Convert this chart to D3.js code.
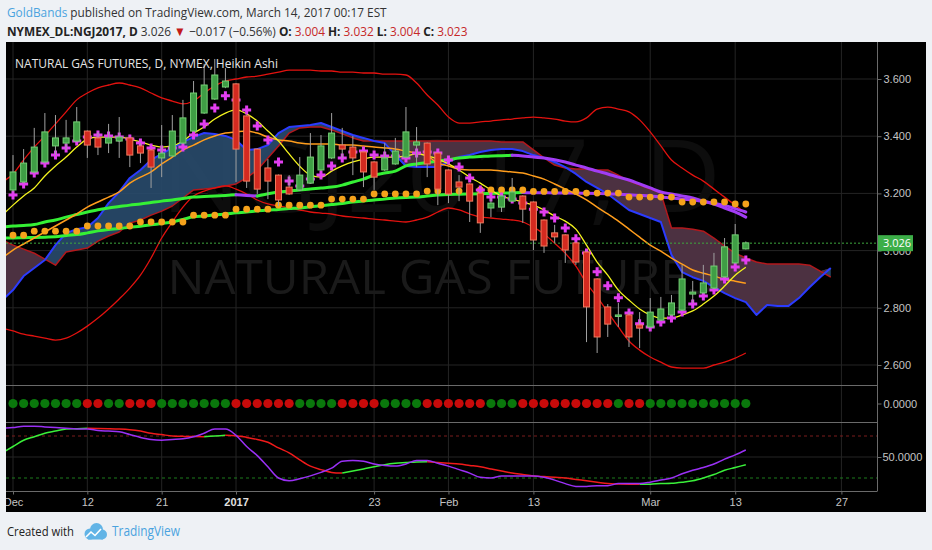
<!DOCTYPE html>
<html>
<head>
<meta charset="utf-8">
<script src="https://cdn.jsdelivr.net/npm/d3@7"></script>
<style>
  html, body { margin: 0; padding: 0; background: #eef1f5; }
  svg { display: block; }
  text { font-family: 'Open Sans', 'Noto Sans', sans-serif; }
  .axis text { font-family: 'Liberation Sans', Arial, sans-serif; font-size: 11px; fill: #c4c4c4; }
</style>
</head>
<body>
<svg id="chart"></svg>
<script>
// bars are trading days, 0 = Dec 1 2016, 69 = Mar 14 2017
const tickBars = [0, 7, 14, 21, 34, 41, 49, 60, 68, 78];
const tickLabels = ['Dec', '12', '21', '2017', '23', 'Feb', '13', 'Mar', '13', '27'];
const priceTicks = [2.6, 2.8, 3.0, 3.2, 3.4, 3.6];
const lastPrice = 3.026;

// Heikin Ashi candles
const haOpen = [3.212, 3.240, 3.275, 3.310, 3.366, 3.376, 3.383, 3.418, 3.394, 3.376,
  3.383, 3.394, 3.366, 3.352, 3.324, 3.331, 3.376, 3.418, 3.481, 3.530,
  3.572, 3.583, 3.471, 3.355, 3.289, 3.264, 3.222, 3.212, 3.236, 3.282,
  3.324, 3.369, 3.362, 3.345, 3.310, 3.282, 3.303, 3.327, 3.369, 3.376,
  3.341, 3.282, 3.240, 3.233, 3.201, 3.149, 3.152, 3.173, 3.191, 3.170,
  3.107, 3.062, 3.055, 3.027, 2.995, 2.901, 2.803, 2.771, 2.775, 2.740,
  2.733, 2.757, 2.775, 2.792, 2.848, 2.852, 2.869, 2.908, 2.957, 3.006];
const haHigh = [3.334, 3.355, 3.429, 3.481, 3.474, 3.457, 3.502, 3.420, 3.415, 3.443,
  3.467, 3.396, 3.376, 3.354, 3.439, 3.474, 3.527, 3.593, 3.653, 3.670,
  3.638, 3.585, 3.473, 3.357, 3.320, 3.266, 3.264, 3.327, 3.411, 3.404,
  3.481, 3.429, 3.401, 3.347, 3.312, 3.376, 3.394, 3.502, 3.432, 3.378,
  3.343, 3.284, 3.264, 3.235, 3.203, 3.184, 3.195, 3.254, 3.193, 3.172,
  3.109, 3.090, 3.057, 3.029, 2.997, 2.903, 2.813, 2.817, 2.785, 2.785,
  2.834, 2.838, 2.845, 2.950, 2.894, 2.950, 2.992, 3.044, 3.093, 3.032];
const haLow = [3.205, 3.235, 3.270, 3.305, 3.334, 3.352, 3.380, 3.324, 3.334, 3.341,
  3.324, 3.292, 3.306, 3.219, 3.257, 3.328, 3.372, 3.415, 3.478, 3.527,
  3.568, 3.240, 3.219, 3.198, 3.180, 3.156, 3.195, 3.208, 3.233, 3.278,
  3.320, 3.324, 3.264, 3.222, 3.212, 3.278, 3.300, 3.323, 3.292, 3.257,
  3.159, 3.166, 3.173, 3.100, 3.062, 3.117, 3.135, 3.170, 3.097, 3.002,
  2.992, 3.027, 2.957, 2.950, 2.680, 2.642, 2.698, 2.733, 2.663, 2.659,
  2.730, 2.754, 2.772, 2.789, 2.817, 2.849, 2.866, 2.905, 2.954, 3.004];
const haClose = [3.275, 3.306, 3.362, 3.415, 3.394, 3.394, 3.450, 3.369, 3.362, 3.394,
  3.397, 3.334, 3.341, 3.292, 3.341, 3.418, 3.464, 3.551, 3.579, 3.614,
  3.593, 3.355, 3.243, 3.215, 3.243, 3.177, 3.198, 3.264, 3.327, 3.366,
  3.411, 3.355, 3.324, 3.275, 3.257, 3.324, 3.348, 3.415, 3.380, 3.303,
  3.215, 3.198, 3.222, 3.173, 3.097, 3.166, 3.191, 3.205, 3.145, 3.037,
  3.016, 3.048, 3.002, 2.960, 2.803, 2.698, 2.743, 2.775, 2.698, 2.729,
  2.785, 2.796, 2.817, 2.901, 2.855, 2.887, 2.946, 3.013, 3.055, 3.027];

// magenta cross study, one per bar
const crossLevel = [3.194, 3.233, 3.271, 3.306, 3.334, 3.359, 3.383, 3.397, 3.404, 3.401,
  3.397, 3.390, 3.376, 3.359, 3.352, 3.359, 3.362, 3.404, 3.443, 3.499,
  3.541, 3.527, 3.492, 3.436, 3.387, 3.310, 3.243, 3.226, 3.250, 3.264,
  3.296, 3.324, 3.345, 3.348, 3.334, 3.331, 3.331, 3.324, 3.341, 3.345,
  3.341, 3.317, 3.292, 3.254, 3.212, 3.187, 3.187, 3.180, 3.166, 3.145,
  3.135, 3.114, 3.079, 3.041, 2.992, 2.926, 2.877, 2.835, 2.782, 2.744,
  2.733, 2.750, 2.764, 2.785, 2.813, 2.841, 2.862, 2.901, 2.943, 2.967];

// weekly level shown as orange dots (first bar of each week, value)
const dotWeekStart = [0, 2, 7, 12, 17, 21, 25, 30, 34, 39, 44, 49, 54, 58, 63, 68];
const dotWeekValue = [3.054, 3.068, 3.086, 3.100, 3.124, 3.145, 3.159, 3.180, 3.198, 3.208,
  3.212, 3.207, 3.201, 3.187, 3.170, 3.163];

// line studies, first value is bar -1
const lineStart = -1;
const maShort = [3.124, 3.159, 3.191, 3.219, 3.261, 3.296, 3.327, 3.362, 3.390, 3.397,
  3.397, 3.397, 3.390, 3.380, 3.369, 3.362, 3.366, 3.383, 3.411, 3.432,
  3.460, 3.481, 3.492, 3.478, 3.453, 3.418, 3.383, 3.338, 3.295, 3.264,
  3.257, 3.278, 3.296, 3.310, 3.320, 3.327, 3.327, 3.327, 3.331, 3.338,
  3.331, 3.320, 3.303, 3.282, 3.257, 3.236, 3.212, 3.191, 3.180, 3.170,
  3.159, 3.142, 3.121, 3.103, 3.075, 3.019, 2.960, 2.914, 2.862, 2.827,
  2.796, 2.775, 2.764, 2.764, 2.775, 2.789, 2.813, 2.841, 2.876, 2.914, 2.942];
const maMid = [2.974, 3.002, 3.023, 3.044, 3.065, 3.086, 3.107, 3.128, 3.152, 3.170,
  3.187, 3.205, 3.236, 3.257, 3.275, 3.303, 3.327, 3.352, 3.369, 3.387,
  3.401, 3.411, 3.415, 3.418, 3.411, 3.397, 3.387, 3.383, 3.376, 3.373,
  3.373, 3.373, 3.369, 3.369, 3.366, 3.362, 3.359, 3.355, 3.348, 3.341,
  3.331, 3.306, 3.296, 3.285, 3.282, 3.282, 3.282, 3.278, 3.275, 3.271,
  3.261, 3.250, 3.233, 3.215, 3.198, 3.177, 3.152, 3.128, 3.103, 3.075,
  3.047, 3.019, 2.998, 2.974, 2.953, 2.932, 2.921, 2.911, 2.900, 2.893, 2.886];
const maFast = [3.082, 3.086, 3.088, 3.091, 3.100, 3.107, 3.117, 3.126, 3.135, 3.143,
  3.149, 3.154, 3.159, 3.163, 3.168, 3.173, 3.177, 3.182, 3.187, 3.189,
  3.191, 3.193, 3.195, 3.193, 3.191, 3.199, 3.205, 3.208, 3.212, 3.215,
  3.219, 3.222, 3.229, 3.240, 3.250, 3.264, 3.271, 3.278, 3.296, 3.303,
  3.308, 3.313, 3.318, 3.324, 3.327, 3.329, 3.331, 3.332, 3.333, 3.331,
  3.327, 3.324, 3.318, 3.310, 3.299, 3.289, 3.278, 3.268, 3.257, 3.247,
  3.233, 3.219, 3.205, 3.198, 3.191, 3.184, 3.173, 3.163, 3.149, 3.135, 3.117];
const maSlow = [3.044, 3.0441, 3.045, 3.046, 3.047, 3.048, 3.053, 3.056, 3.062, 3.069,
  3.074, 3.077, 3.082, 3.085, 3.090, 3.095, 3.100, 3.109, 3.118, 3.121,
  3.125, 3.128, 3.132, 3.135, 3.139, 3.142, 3.144, 3.147, 3.149, 3.153,
  3.157, 3.161, 3.165, 3.170, 3.173, 3.177, 3.180, 3.184, 3.186, 3.187,
  3.191, 3.194, 3.196, 3.197, 3.198, 3.199, 3.200, 3.201, 3.202, 3.2028,
  3.2025, 3.2021, 3.2017, 3.2014, 3.2011, 3.2007, 3.200, 3.199, 3.197, 3.195,
  3.193, 3.191, 3.187, 3.184, 3.180, 3.177, 3.172, 3.166, 3.158, 3.147, 3.135];
const bbUpper = [3.240, 3.268, 3.317, 3.362, 3.401, 3.443, 3.485, 3.527, 3.551, 3.569,
  3.579, 3.586, 3.579, 3.569, 3.551, 3.534, 3.523, 3.513, 3.523, 3.551,
  3.576, 3.593, 3.600, 3.607, 3.610, 3.617, 3.624, 3.631, 3.631, 3.631,
  3.628, 3.628, 3.624, 3.624, 3.621, 3.621, 3.617, 3.617, 3.614, 3.586,
  3.544, 3.509, 3.467, 3.446, 3.446, 3.450, 3.453, 3.457, 3.460, 3.464,
  3.467, 3.464, 3.460, 3.453, 3.450, 3.464, 3.495, 3.502, 3.495, 3.485,
  3.457, 3.415, 3.366, 3.317, 3.289, 3.264, 3.243, 3.215, 3.187, 3.159, 3.131];
const bbLower = [2.729, 2.719, 2.708, 2.701, 2.694, 2.687, 2.694, 2.712, 2.736, 2.764,
  2.796, 2.831, 2.869, 2.914, 2.974, 3.044, 3.100, 3.152, 3.191, 3.208,
  3.219, 3.226, 3.215, 3.198, 3.177, 3.163, 3.156, 3.149, 3.142, 3.135,
  3.131, 3.128, 3.121, 3.117, 3.114, 3.110, 3.107, 3.103, 3.100, 3.107,
  3.117, 3.135, 3.149, 3.142, 3.128, 3.117, 3.114, 3.110, 3.107, 3.100,
  3.082, 3.058, 3.026, 2.991, 2.946, 2.886, 2.838, 2.785, 2.733, 2.684,
  2.652, 2.628, 2.610, 2.593, 2.589, 2.589, 2.589, 2.600, 2.610, 2.624, 2.642];

// ichimoku cloud, first value is bar -1, runs 8 bars past the last candle
const cloudStart = -1;
const senkouA = [2.827, 2.862, 2.911, 2.939, 2.967, 3.019, 3.061, 3.075, 3.082, 3.114,
  3.166, 3.205, 3.254, 3.282, 3.317, 3.338, 3.359, 3.380, 3.397, 3.411,
  3.408, 3.401, 3.387, 3.352, 3.355, 3.369, 3.411, 3.432, 3.436, 3.439,
  3.446, 3.432, 3.418, 3.404, 3.394, 3.383, 3.376, 3.334, 3.296, 3.292,
  3.292, 3.292, 3.310, 3.327, 3.334, 3.345, 3.352, 3.355, 3.355, 3.348,
  3.334, 3.324, 3.310, 3.292, 3.268, 3.240, 3.219, 3.198, 3.170, 3.142,
  3.128, 3.114, 3.100, 2.985, 2.925, 2.907, 2.894, 2.872, 2.851, 2.834,
  2.820, 2.775, 2.810, 2.806, 2.806, 2.834, 2.872, 2.907, 2.939];
const senkouB = [3.037, 3.019, 3.005, 2.991, 2.970, 2.949, 2.995, 3.002, 3.009, 3.033,
  3.051, 3.065, 3.096, 3.107, 3.124, 3.138, 3.156, 3.184, 3.212, 3.215,
  3.219, 3.226, 3.233, 3.254, 3.282, 3.324, 3.366, 3.411, 3.429, 3.432,
  3.432, 3.422, 3.408, 3.394, 3.383, 3.383, 3.383, 3.383, 3.383, 3.383,
  3.383, 3.383, 3.383, 3.383, 3.383, 3.383, 3.383, 3.380, 3.380, 3.380,
  3.352, 3.324, 3.299, 3.289, 3.285, 3.285, 3.282, 3.282, 3.264, 3.243,
  3.229, 3.215, 3.201, 3.079, 3.079, 3.075, 3.068, 3.044, 3.016, 2.991,
  2.974, 2.960, 2.953, 2.953, 2.953, 2.953, 2.949, 2.928, 2.907];

// squeeze dots, g = green, r = red
const squeeze = 'gggggggrrggrrrgggggggrrrrrrggggrrrrggggrrrrrrgggrrrrrrrrrgrrgggggggggg'.split('');

// stochastic pane, first value is bar -1
const oscStart = -1;
const stochK = [91, 92, 94, 94, 93, 92, 91, 90, 90, 88, 87,
  86, 82, 78, 75, 74, 75, 76, 79, 84, 90,
  90, 81, 65, 52, 36, 20, 16, 19, 23, 28,
  34, 44, 45, 44, 40, 38, 37, 40, 45, 45,
  41, 37, 32, 27, 21, 20, 23, 23, 23, 23,
  21, 17, 12, 8, 8, 9, 9, 12, 12, 12,
  14, 17, 20, 26, 31, 35, 40, 47, 53, 60];
const stochD = [56, 65, 74, 79, 84, 87, 90, 90.5, 91, 90.8, 90.5,
  90, 89, 87, 84, 82, 80, 79.5, 79.2, 79, 80,
  81, 80.5, 78, 75, 71, 63, 56, 46, 37, 32,
  28, 27, 30, 33, 36, 39, 41, 42, 43, 43.2,
  42, 41, 40, 38, 36, 33, 30, 27, 25, 23,
  22, 21, 20, 18, 16, 14, 12, 11.5, 11.2, 11,
  11.2, 12, 12.5, 14, 16, 20, 25, 31, 35, 39];

const svg = d3.select('#chart').attr('width', 932).attr('height', 550);

const x = d3.scaleLinear().domain([0, 78]).range([13, 841.4]);
const y = d3.scaleLinear().domain([2.6, 3.6]).range([365, 79]);
const yOsc = d3.scaleLinear().domain([0, 100]).range([492, 422]);
const yDot = d3.scaleLinear().domain([-1, 1]).range([422, 385]);

function points(values, start) {
  return values.map(function(v, k) { return {i: start + k, v: v}; });
}

// split a series into runs that go up or down
function directionRuns(pts) {
  const runs = [];
  let cur = null;
  for (let k = 1; k < pts.length; k++) {
    const up = pts[k].v >= pts[k - 1].v;
    if (!cur || cur.up !== up) {
      cur = {up: up, pts: [pts[k - 1]]};
      runs.push(cur);
    }
    cur.pts.push(pts[k]);
  }
  return runs;
}

svg.append('rect').attr('width', 932).attr('height', 550).attr('fill', '#eef1f5');
svg.append('rect').attr('x', 6).attr('y', 42).attr('width', 920).attr('height', 470).attr('fill', '#000');

const defs = svg.append('defs');
defs.append('clipPath').attr('id', 'clip-main').append('rect')
  .attr('x', 6).attr('y', 42).attr('width', 871).attr('height', 343);
defs.append('clipPath').attr('id', 'clip-lower').append('rect')
  .attr('x', 6).attr('y', 385).attr('width', 871).attr('height', 106);
defs.append('clipPath').attr('id', 'clip-xaxis').append('rect')
  .attr('x', 6).attr('y', 491).attr('width', 871).attr('height', 21);

// grid
const grid = svg.append('g').attr('stroke', '#242424').attr('stroke-width', 1);
grid.selectAll('.vgrid').data(tickBars).enter().append('line')
  .attr('x1', function(d) { return x(d); }).attr('x2', function(d) { return x(d); })
  .attr('y1', 42).attr('y2', 491);
grid.selectAll('.hgrid').data(priceTicks).enter().append('line')
  .attr('x1', 6).attr('x2', 877)
  .attr('y1', function(d) { return y(d); }).attr('y2', function(d) { return y(d); });
grid.append('line').attr('x1', 6).attr('x2', 877).attr('y1', yOsc(50)).attr('y2', yOsc(50));

const main = svg.append('g').attr('clip-path', 'url(#clip-main)');

// watermark
main.append('text').attr('x', 441).attr('y', 212).attr('text-anchor', 'middle')
  .attr('font-size', 100).attr('fill', '#0d0d0d')
  .attr('textLength', 560).attr('lengthAdjust', 'spacingAndGlyphs')
  .text('NGJ2017, D');
main.append('text').attr('x', 441).attr('y', 294).attr('text-anchor', 'middle')
  .attr('font-size', 48).attr('fill', '#1a1a1a')
  .attr('textLength', 547).attr('lengthAdjust', 'spacingAndGlyphs')
  .text('NATURAL GAS FUTURES');

// cloud
const cloudPts = senkouA.map(function(a, k) { return {i: cloudStart + k, a: a, b: senkouB[k]}; });
main.append('path').datum(cloudPts)
  .attr('d', d3.area().x(function(d) { return x(d.i); })
    .y0(function(d) { return y(d.b); })
    .y1(function(d) { return y(Math.max(d.a, d.b)); }))
  .attr('fill', '#294b6d').attr('opacity', 0.9);
main.append('path').datum(cloudPts)
  .attr('d', d3.area().x(function(d) { return x(d.i); })
    .y0(function(d) { return y(d.a); })
    .y1(function(d) { return y(Math.max(d.a, d.b)); }))
  .attr('fill', '#4c3141');

const priceLine = d3.line().x(function(d) { return x(d.i); }).y(function(d) { return y(d.v); });
const smoothLine = d3.line().curve(d3.curveMonotoneX)
  .x(function(d) { return x(d.i); }).y(function(d) { return y(d.v); });

function drawLine(values, start, color, width, gen) {
  main.append('path').datum(points(values, start))
    .attr('d', gen || priceLine)
    .attr('fill', 'none').attr('stroke', color).attr('stroke-width', width)
    .attr('stroke-linejoin', 'round');
}

function drawTrendLine(values, start, upColor, downColor, width) {
  directionRuns(points(values, start)).forEach(function(run) {
    main.append('path').datum(run.pts)
      .attr('d', smoothLine)
      .attr('fill', 'none').attr('stroke', run.up ? upColor : downColor)
      .attr('stroke-width', width).attr('stroke-linecap', 'round');
  });
}

drawLine(senkouB, cloudStart, '#b3181c', 1.5);
drawLine(senkouA, cloudStart, '#2b3bff', 2);
drawLine(bbUpper, lineStart, '#e3120f', 1.3, smoothLine);
drawLine(bbLower, lineStart, '#e3120f', 1.3, smoothLine);
drawTrendLine(maSlow, lineStart, '#35f035', '#a23cf5', 3);
drawTrendLine(maFast, lineStart, '#35f035', '#a23cf5', 3);
drawLine(maMid, lineStart, '#ff9d1c', 1.5, smoothLine);
drawLine(maShort, lineStart, '#f4f41e', 1.3, smoothLine);

// weekly dots
const dotData = [];
dotWeekStart.forEach(function(s, w) {
  const end = w + 1 < dotWeekStart.length ? dotWeekStart[w + 1] : haOpen.length;
  for (let i = s; i < end; i++) dotData.push({i: i, v: dotWeekValue[w]});
});
main.selectAll('.wdot').data(dotData).enter().append('circle')
  .attr('cx', function(d) { return x(d.i); })
  .attr('cy', function(d) { return y(d.v); })
  .attr('r', 3.4).attr('fill', '#f5a21b');

// last price line
main.append('line').attr('x1', 6).attr('x2', 877)
  .attr('y1', y(lastPrice)).attr('y2', y(lastPrice))
  .attr('stroke', '#3ea83e').attr('stroke-dasharray', '2,2');

main.selectAll('.cross').data(crossLevel).enter().append('path')
  .attr('d', d3.symbol().type(d3.symbolCross).size(45))
  .attr('transform', function(d, i) { return 'translate(' + x(i) + ',' + y(d) + ')'; })
  .attr('fill', '#e23ef0');

// candles
const candles = haOpen.map(function(o, i) {
  return {i: i, o: o, h: haHigh[i], l: haLow[i], c: haClose[i]};
});
main.selectAll('.wick').data(candles).enter().append('line')
  .attr('x1', function(d) { return x(d.i); }).attr('x2', function(d) { return x(d.i); })
  .attr('y1', function(d) { return y(d.h); }).attr('y2', function(d) { return y(d.l); })
  .attr('stroke', '#a0a0a0').attr('stroke-width', 1);
main.selectAll('.body').data(candles).enter().append('rect')
  .attr('x', function(d) { return x(d.i) - 3; })
  .attr('width', 6)
  .attr('y', function(d) { return y(Math.max(d.o, d.c)); })
  .attr('height', function(d) { return Math.max(1.5, Math.abs(y(d.o) - y(d.c))); })
  .attr('fill', function(d) { return d.c >= d.o ? '#3f9e45' : '#d42a20'; })
  .attr('stroke', function(d) { return d.c >= d.o ? '#74cf74' : '#f27b5e'; })
  .attr('stroke-width', 1);

// lower panes
const lower = svg.append('g').attr('clip-path', 'url(#clip-lower)');
lower.selectAll('.sq').data(squeeze).enter().append('circle')
  .attr('cx', function(d, i) { return x(i); })
  .attr('cy', yDot(0))
  .attr('r', 4.6)
  .attr('fill', function(d) { return d === 'g' ? '#0a780c' : '#c80a0a'; });

lower.append('line').attr('x1', 6).attr('x2', 877).attr('y1', yOsc(80)).attr('y2', yOsc(80))
  .attr('stroke', '#7a1c1c').attr('stroke-dasharray', '3,3');
lower.append('line').attr('x1', 6).attr('x2', 877).attr('y1', yOsc(20)).attr('y2', yOsc(20))
  .attr('stroke', '#1c7a1c').attr('stroke-dasharray', '3,3');

const oscLine = d3.line().curve(d3.curveMonotoneX)
  .x(function(d) { return x(d.i); }).y(function(d) { return yOsc(d.v); });
directionRuns(points(stochD, oscStart)).forEach(function(run) {
  lower.append('path').datum(run.pts).attr('d', oscLine)
    .attr('fill', 'none').attr('stroke', run.up ? '#3af03a' : '#f01a1a').attr('stroke-width', 1.5);
});
lower.append('path').datum(points(stochK, oscStart)).attr('d', oscLine)
  .attr('fill', 'none').attr('stroke', '#9a30f5').attr('stroke-width', 1.5);

// separators
const sep = svg.append('g').attr('stroke', '#6a6a6a').attr('stroke-width', 1);
sep.append('line').attr('x1', 6).attr('x2', 877).attr('y1', 385.5).attr('y2', 385.5);
sep.append('line').attr('x1', 6).attr('x2', 877).attr('y1', 422.5).attr('y2', 422.5);
sep.append('line').attr('x1', 6).attr('x2', 877).attr('y1', 491.5).attr('y2', 491.5);
sep.append('line').attr('x1', 877.5).attr('x2', 877.5).attr('y1', 42).attr('y2', 491.5);

// axes
svg.append('g').attr('class', 'axis')
  .attr('transform', 'translate(877.5,0)')
  .call(d3.axisRight(y).tickValues(priceTicks).tickFormat(d3.format('.3f')).tickSize(4).tickPadding(2));
svg.append('g').attr('class', 'axis')
  .attr('transform', 'translate(877.5,0)')
  .call(d3.axisRight(yDot).tickValues([0]).tickFormat(d3.format('.4f')).tickSize(4).tickPadding(2));
svg.append('g').attr('class', 'axis')
  .attr('transform', 'translate(877.5,0)')
  .call(d3.axisRight(yOsc).tickValues([50]).tickFormat(d3.format('.4f')).tickSize(4).tickPadding(1));
const timeAxis = svg.append('g').attr('class', 'axis')
  .attr('clip-path', 'url(#clip-xaxis)')
  .append('g')
  .attr('transform', 'translate(0,491.5)')
  .call(d3.axisBottom(x).tickValues(tickBars)
    .tickFormat(function(d, i) { return tickLabels[i]; }).tickSize(3).tickPadding(4));
timeAxis.selectAll('text').filter(function(d, i) { return tickLabels[i] === '2017'; })
  .attr('font-weight', 'bold').style('fill', '#e0e0e0');
svg.selectAll('.axis .domain').remove();
svg.selectAll('.axis .tick line').attr('stroke', '#6a6a6a');

// last price tag, sits over the 3.000 label as in the original
svg.append('rect').attr('x', 878).attr('y', y(lastPrice) - 8).attr('width', 35).attr('height', 16)
  .attr('fill', '#3cae48');
svg.append('text').attr('x', 883).attr('y', y(lastPrice) + 4)
  .attr('font-family', "'Liberation Sans', Arial, sans-serif").attr('font-size', 11).attr('fill', '#fff')
  .text(d3.format('.3f')(lastPrice));

// pane title
svg.append('text').attr('x', 15).attr('y', 68).attr('font-size', 12.5).attr('fill', '#e4e4e4')
  .attr('textLength', 263).attr('lengthAdjust', 'spacingAndGlyphs')
  .text('NATURAL GAS FUTURES, D, NYMEX, Heikin Ashi');

// page header: lay out at natural size, then squeeze the row to the target width
function headerLine(yPos, width, pieces) {
  const g = svg.append('g');
  const t = g.append('text').attr('x', 0).attr('y', 0).attr('font-size', 13);
  pieces.forEach(function(p) {
    t.append('tspan').attr('fill', p[1]).attr('font-weight', p[2] ? 'bold' : null).text(p[0]);
  });
  const w = t.node().getComputedTextLength();
  g.attr('transform', 'translate(7,' + yPos + ') scale(' + (width / w) + ',1)');
}

headerLine(17, 380, [
  ['GoldBands', '#4aa3df'],
  [' published on TradingView.com, March 14, 2017 00:17 EST', '#333']
]);
headerLine(36, 461, [
  ['NYMEX_DL:NGJ2017, D', '#222', true],
  [' 3.026 ', '#333'],
  ['\u25BC', '#c21a1a'],
  [' \u22120.017 (\u22120.56%) ', '#333'],
  ['O: ', '#222', true], ['3.004', '#c62828'],
  [' H: ', '#222', true], ['3.032', '#c62828'],
  [' L: ', '#222', true], ['3.004', '#c62828'],
  [' C: ', '#222', true], ['3.023', '#c62828']
]);

// footer
svg.append('text').attr('x', 7).attr('y', 536).attr('font-size', 13.5).attr('fill', '#222')
  .attr('textLength', 67).attr('lengthAdjust', 'spacingAndGlyphs')
  .text('Created with');
const logo = svg.append('g').attr('fill', '#62b4e6');
logo.append('circle').attr('cx', 90).attr('cy', 534).attr('r', 5.5);
logo.append('circle').attr('cx', 96.5).attr('cy', 529.5).attr('r', 6.5);
logo.append('circle').attr('cx', 102).attr('cy', 534.5).attr('r', 5);
logo.append('rect').attr('x', 88).attr('y', 533).attr('width', 15).attr('height', 6.5);
svg.append('polyline').attr('points', '86,537 91,532 95,535.5 101,529')
  .attr('fill', 'none').attr('stroke', '#fff').attr('stroke-width', 1.6);
svg.append('text').attr('x', 112).attr('y', 536).attr('font-size', 14).attr('fill', '#4aa3df')
  .attr('textLength', 68).attr('lengthAdjust', 'spacingAndGlyphs')
  .text('TradingView');
</script>
</body>
</html>
